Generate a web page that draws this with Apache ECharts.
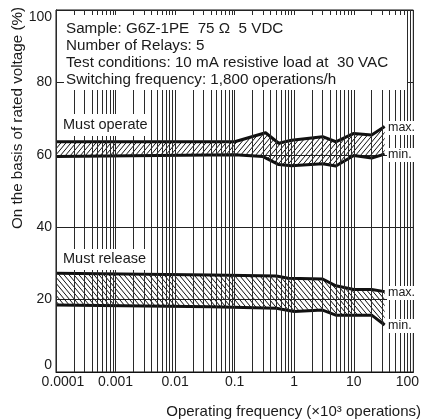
<!DOCTYPE html>
<html>
<head>
<meta charset="utf-8">
<script src="https://cdn.jsdelivr.net/npm/echarts@6/dist/echarts.min.js"></script>
<style>
html,body{margin:0;padding:0;background:#fff;}
#c{width:422px;height:419px;}
</style>
</head>
<body>
<div id="c"></div>
<script>
// ---- data (x: ×10^3 operations, y: % of rated voltage) ----
const operateMax = [[0.0001, 63.6], [0.1, 63.6], [0.33, 66.1], [0.55, 63.2], [0.9, 64.0], [3, 65.0], [5, 63.6], [10, 65.9], [20, 65.5], [33, 67.8]];
const operateMin = [[0.0001, 59.5], [0.1, 60.0], [0.3, 59.5], [0.55, 57.3], [0.9, 57.0], [3, 57.5], [5, 56.9], [10, 59.8], [20, 59.1], [33, 60.2]];
const releaseMax = [[0.0001, 27.3], [0.04, 26.8], [0.5, 26.5], [0.8, 25.9], [3, 25.7], [5, 23.8], [10, 22.8], [20, 22.8], [33, 22.2]];
const releaseMin = [[0.0001, 18.5], [0.04, 18.0], [0.5, 17.6], [1, 16.7], [3, 17.1], [5, 15.7], [20, 15.7], [33, 13.0]];
const xTickLabels = ['0.0001', '0.001', '0.01', '0.1', '1', '10', '100'];
const yTicks = [0, 20, 40, 60, 80, 100];
const decades = [0.0001, 0.001, 0.01, 0.1, 1, 10];
const minorSteps = [1, 2, 3, 4, 5, 6, 7, 8, 9];
const noteLines = [
  'Sample: G6Z-1PE  75 \u03A9  5 VDC',
  'Number of Relays: 5',
  'Test conditions: 10 mA resistive load at  30 VAC',
  'Switching frequency: 1,800 operations/h'
];

// vertical log grid values
const gridValues = [];
decades.forEach(d => minorSteps.forEach(k => gridValues.push(k * d)));
gridValues.push(100);

function hatch(forward) {
  const w = 5, h = 6;
  const cv = document.createElement('canvas');
  cv.width = w; cv.height = h;
  const ctx = cv.getContext('2d');
  ctx.strokeStyle = '#111';
  ctx.lineWidth = 1.0;
  ctx.beginPath();
  if (forward) {
    ctx.moveTo(0, h); ctx.lineTo(w, 0);
    ctx.moveTo(-w, h); ctx.lineTo(0, 0);
    ctx.moveTo(w, h); ctx.lineTo(2 * w, 0);
  } else {
    ctx.moveTo(0, 0); ctx.lineTo(w, h);
    ctx.moveTo(-w, 0); ctx.lineTo(0, h);
    ctx.moveTo(w, 0); ctx.lineTo(2 * w, h);
  }
  ctx.stroke();
  return { image: cv, repeat: 'repeat' };
}

function band(maxArr, minArr, pattern) {
  return {
    type: 'custom',
    coordinateSystem: 'cartesian2d',
    data: [[1, 50]],
    z: 3,
    silent: true,
    renderItem: function (params, api) {
      const pts = maxArr.map(p => api.coord(p)).concat(minArr.slice().reverse().map(p => api.coord(p)));
      return { type: 'polygon', shape: { points: pts }, style: { fill: pattern, stroke: null } };
    }
  };
}
function edge(arr) {
  return {
    type: 'line', data: arr, showSymbol: false, symbol: 'none', z: 4, silent: true,
    lineStyle: { color: '#111', width: 3, join: 'round' }
  };
}

const font = 'Liberation Sans, Arial, Helvetica, sans-serif';
const txtColor = '#1a1a1a';

const chart = echarts.init(document.getElementById('c'), null, { renderer: 'canvas' });

const graphics = [
  { type: 'rect', shape: { x: 64, y: 15, width: 343, height: 75 }, style: { fill: '#fff' }, z: 10 },
  { type: 'rect', shape: { x: 61, y: 114, width: 90, height: 22 }, style: { fill: '#fff' }, z: 10 },
  { type: 'rect', shape: { x: 61, y: 249, width: 90, height: 21 }, style: { fill: '#fff' }, z: 10 },
  { type: 'rect', shape: { x: 387, y: 121, width: 27, height: 14 }, style: { fill: '#fff' }, z: 10 },
  { type: 'rect', shape: { x: 387, y: 148, width: 27, height: 14 }, style: { fill: '#fff' }, z: 10 },
  { type: 'rect', shape: { x: 387, y: 286, width: 27, height: 14 }, style: { fill: '#fff' }, z: 10 },
  { type: 'rect', shape: { x: 387, y: 319, width: 27, height: 14 }, style: { fill: '#fff' }, z: 10 },
  { type: 'text', x: 63, y: 125, z: 11, style: { text: 'Must operate', font: '14.5px ' + font, fill: txtColor, textVerticalAlign: 'middle' } },
  { type: 'text', x: 63, y: 259, z: 11, style: { text: 'Must release', font: '14.5px ' + font, fill: txtColor, textVerticalAlign: 'middle' } },
  { type: 'text', x: 388, y: 128, z: 11, style: { text: 'max.', font: '12.5px ' + font, fill: txtColor, textVerticalAlign: 'middle' } },
  { type: 'text', x: 388, y: 155, z: 11, style: { text: 'min.', font: '12.5px ' + font, fill: txtColor, textVerticalAlign: 'middle' } },
  { type: 'text', x: 388, y: 293, z: 11, style: { text: 'max.', font: '12.5px ' + font, fill: txtColor, textVerticalAlign: 'middle' } },
  { type: 'text', x: 388, y: 326, z: 11, style: { text: 'min.', font: '12.5px ' + font, fill: txtColor, textVerticalAlign: 'middle' } },
  { type: 'text', x: 18, y: 118, rotation: Math.PI / 2, z: 11, style: { text: 'On the basis of rated voltage (%)', font: '15.2px ' + font, fill: txtColor, textAlign: 'center', textVerticalAlign: 'middle' } },
  { type: 'text', x: 421, y: 412, z: 11, style: { text: 'Operating frequency (\u00D710\u00B3 operations)', font: '15px ' + font, fill: txtColor, textAlign: 'right', textVerticalAlign: 'middle' } }
];
noteLines.forEach((t, i) => {
  graphics.push({ type: 'text', x: 66, y: 29 + i * 17, z: 11, style: { text: t, font: '15.2px ' + font, fill: txtColor, textVerticalAlign: 'middle' } });
});

chart.setOption({
  animation: false,
  backgroundColor: '#fff',
  grid: { left: 56, right: 8, top: 10, bottom: 47, show: true, borderColor: '#111', borderWidth: 1, backgroundColor: 'transparent' },
  xAxis: {
    type: 'log', logBase: 10, min: 0.0001, max: 100, splitNumber: 6,
    axisLine: { lineStyle: { color: '#111', width: 1 } },
    axisTick: { show: false },
    splitLine: { show: false },
    axisLabel: {
      color: txtColor, fontSize: 14, fontFamily: font, margin: 3,
      formatter: function (v) {
        const e = Math.round(Math.log10(v));
        const s = xTickLabels[e + 4];
        if (e === -4) return '{f|' + s + '}';
        if (e === 2) return '{l|' + s + '}';
        return s;
      },
      rich: {
        f: { padding: [0, 0, 0, 14], fontSize: 14, fontFamily: font, color: txtColor },
        l: { padding: [0, 12, 0, 0], fontSize: 14, fontFamily: font, color: txtColor }
      }
    }
  },
  yAxis: {
    type: 'value', min: 0, max: 100, interval: 20,
    axisLine: { show: true, lineStyle: { color: '#111', width: 1 } },
    axisTick: { show: false },
    splitLine: { show: true, lineStyle: { color: '#222', width: 1 } },
    axisLabel: {
      color: txtColor, fontSize: 14, fontFamily: font, margin: 4,
      verticalAlignMinLabel: 'bottom', verticalAlignMaxLabel: 'top',
      formatter: function (v) { return yTicks.indexOf(v) >= 0 ? String(v) : ''; }
    }
  },
  graphic: graphics,
  series: [
    {
      type: 'line', data: [[0.0001, 0]], showSymbol: false, symbol: 'none', z: 1, silent: true,
      lineStyle: { opacity: 0 },
      markLine: {
        silent: true, symbol: ['none', 'none'], label: { show: false }, animation: false, precision: 10,
        lineStyle: { type: 'solid', color: '#2a2a2a', width: 1 },
        data: gridValues.map(v => ({ xAxis: v }))
      }
    },
    band(operateMax, operateMin, hatch(true)),
    band(releaseMax, releaseMin, hatch(false)),
    edge(operateMax), edge(operateMin), edge(releaseMax), edge(releaseMin)
  ]
});
</script>
</body>
</html>
